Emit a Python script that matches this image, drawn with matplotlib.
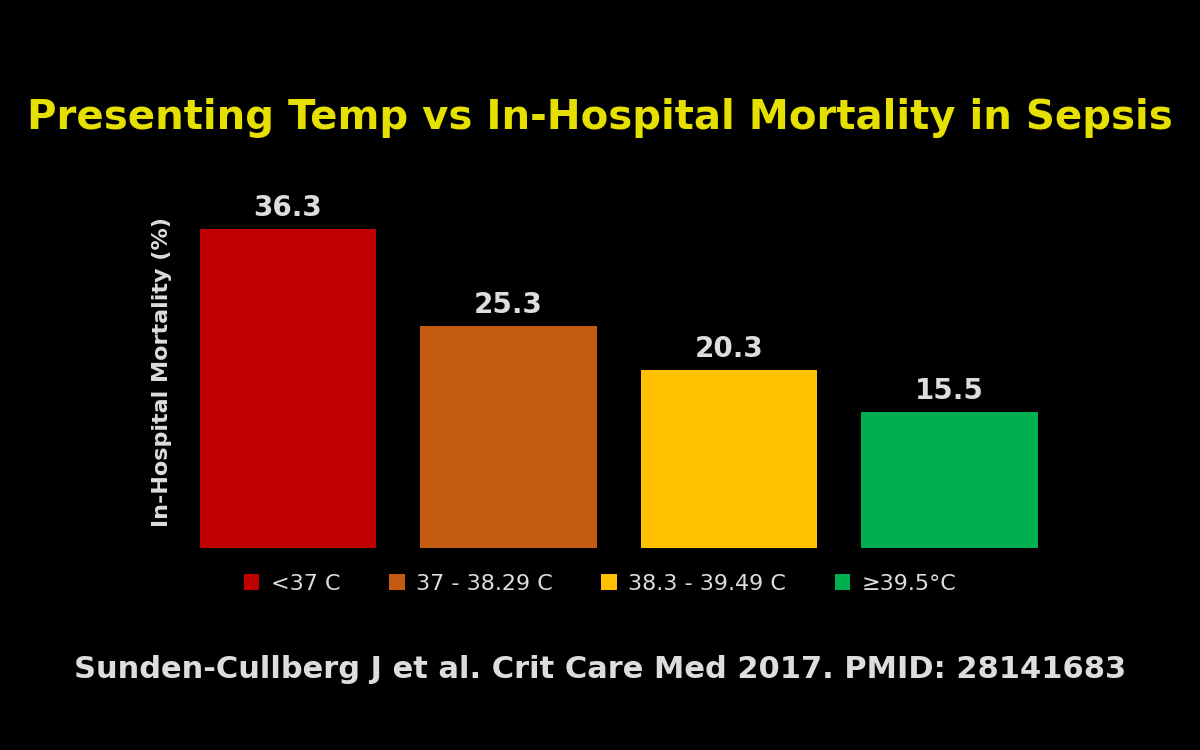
import matplotlib
matplotlib.use("Agg")
import matplotlib.pyplot as plt
from matplotlib.patches import Patch

categories = ["<37 C", "37 - 38.29 C", "38.3 - 39.49 C", "≥39.5°C"]
values = [36.3, 25.3, 20.3, 15.5]
colors = ["#C00000", "#C55A11", "#FFC000", "#00B050"]

fig = plt.figure(figsize=(12, 7.5), dpi=100, facecolor="black")
ax = fig.add_axes([0.148, 0.269, 0.735, 0.469], facecolor="black")
x = range(len(values))
ax.bar(x, values, width=0.8, color=colors)
for i, v in zip(x, values):
    ax.text(i, v + 0.8, f"{v}", ha="center", va="bottom", color="#DDDDDD",
            fontsize=20, fontweight="bold")
ax.set_xlim(-0.5, 3.5)
ax.set_ylim(0, 40)
ax.set_xticks([]); ax.set_yticks([])
for s in ax.spines.values():
    s.set_visible(False)
ax.set_ylabel("In-Hospital Mortality (%)", color="#DDDDDD", fontsize=16, fontweight="bold")

fig.text(0.5, 0.843, "Presenting Temp vs In-Hospital Mortality in Sepsis", ha="center",
         va="center", color="#E5E000", fontsize=29, fontweight="bold")
handles = [Patch(facecolor=c) for c in colors]
fig.legend(handles, categories, loc="center", bbox_to_anchor=(0.5, 0.222), ncol=4,
           frameon=False, labelcolor="#DDDDDD", fontsize=16, handlelength=0.7,
           handleheight=0.7, columnspacing=2.2, handletextpad=0.5)
fig.text(0.5, 0.107, "Sunden-Cullberg J et al. Crit Care Med 2017. PMID: 28141683",
         ha="center", va="center", color="#DDDDDD", fontsize=22, fontweight="bold")
fig.savefig("out.png", facecolor="black")
